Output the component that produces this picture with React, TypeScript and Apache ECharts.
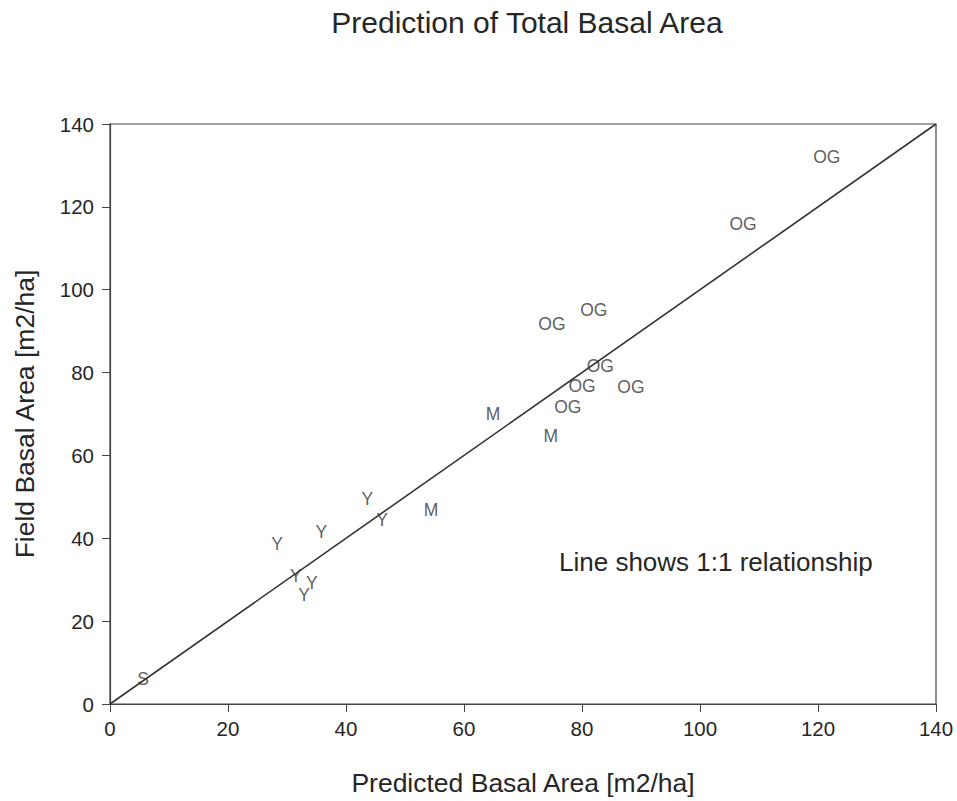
import React, { useEffect, useRef } from "react";
import * as echarts from "echarts";

// Predicted vs. field basal area (m2/ha), grouped by stand class
const seedlingPoints: [number, number][] = [[5.6, 6.0]];
const youngPoints: [number, number][] = [
  [28.3, 38.7],
  [35.8, 41.6],
  [43.6, 49.6],
  [46.1, 44.3],
  [31.5, 30.8],
  [34.2, 29.1],
  [32.9, 26.2],
];
const maturePoints: [number, number][] = [
  [54.4, 46.9],
  [64.9, 70.0],
  [74.7, 64.7],
];
const oldGrowthPoints: [number, number][] = [
  [74.9, 91.7],
  [82.0, 95.0],
  [83.1, 81.5],
  [80.0, 76.7],
  [88.3, 76.5],
  [77.6, 71.7],
  [107.3, 115.9],
  [121.5, 132.1],
];
const classCodes = ["S", "Y", "M", "OG"];
const oneToOneLine: [number, number][] = [
  [0, 0],
  [140, 140],
];

const FONT = "'Liberation Sans', Arial, Helvetica, sans-serif";
const INK = "#262626";

function labelSeries(code: string, data: [number, number][]) {
  return {
    type: "scatter",
    name: code,
    data,
    symbol: "circle",
    symbolSize: 1,
    itemStyle: { color: "rgba(0,0,0,0)" },
    label: {
      show: true,
      position: "inside",
      formatter: code,
      color: "#333333",
      fontFamily: FONT,
      fontSize: 17.5,
    },
    z: 3,
  };
}

export default function App() {
  const ref = useRef<HTMLDivElement>(null);

  useEffect(() => {
    if (!ref.current) return;
    const chart = echarts.init(ref.current, null, { renderer: "svg" });
    const allSeries = [seedlingPoints, youngPoints, maturePoints, oldGrowthPoints];
    chart.setOption({
      animation: false,
      backgroundColor: "#ffffff",
      title: {
        text: "Prediction of Total Basal Area",
        left: 522,
        top: 2,
        textAlign: "center",
        textStyle: { fontFamily: FONT, fontSize: 30, fontWeight: "normal", color: INK },
      },
      grid: {
        left: 110,
        right: 21,
        top: 124,
        bottom: 95,
        show: true,
        borderColor: "#444",
        borderWidth: 1.2,
        backgroundColor: "transparent",
      },
      xAxis: {
        type: "value",
        min: 0,
        max: 140,
        interval: 20,
        name: "Predicted Basal Area [m2/ha]",
        nameLocation: "middle",
        nameGap: 65,
        nameTextStyle: { fontFamily: FONT, fontSize: 26.5, color: INK },
        axisLine: { show: true, lineStyle: { color: "#444", width: 1.2 } },
        axisTick: { show: true, inside: false, length: 8, lineStyle: { color: "#444" } },
        axisLabel: { margin: 14, fontFamily: FONT, fontSize: 20.5, color: INK },
        splitLine: { show: false },
      },
      yAxis: {
        type: "value",
        min: 0,
        max: 140,
        interval: 20,
        name: "Field Basal Area [m2/ha]",
        nameLocation: "middle",
        nameGap: 72,
        nameTextStyle: { fontFamily: FONT, fontSize: 26.5, color: INK },
        axisLine: { show: true, lineStyle: { color: "#444", width: 1.2 } },
        axisTick: { show: true, inside: false, length: 8, lineStyle: { color: "#444" } },
        axisLabel: { margin: 16, fontFamily: FONT, fontSize: 20.5, color: INK },
        splitLine: { show: false },
      },
      graphic: [
        {
          type: "text",
          left: 559,
          top: 549,
          style: {
            text: "Line shows 1:1 relationship",
            fontFamily: FONT,
            fontSize: 26,
            fill: INK,
          },
        },
      ],
      series: [
        {
          type: "line",
          data: oneToOneLine,
          showSymbol: false,
          symbol: "none",
          lineStyle: { color: "#333", width: 1.6 },
          z: 2,
        },
        ...classCodes.map((code, i) => labelSeries(code, allSeries[i])),
      ],
    });
    return () => chart.dispose();
  }, []);

  return (
    <div
      ref={ref}
      style={{ position: "fixed", left: 0, top: 0, width: 957, height: 801, background: "#fff" }}
    />
  );
}
